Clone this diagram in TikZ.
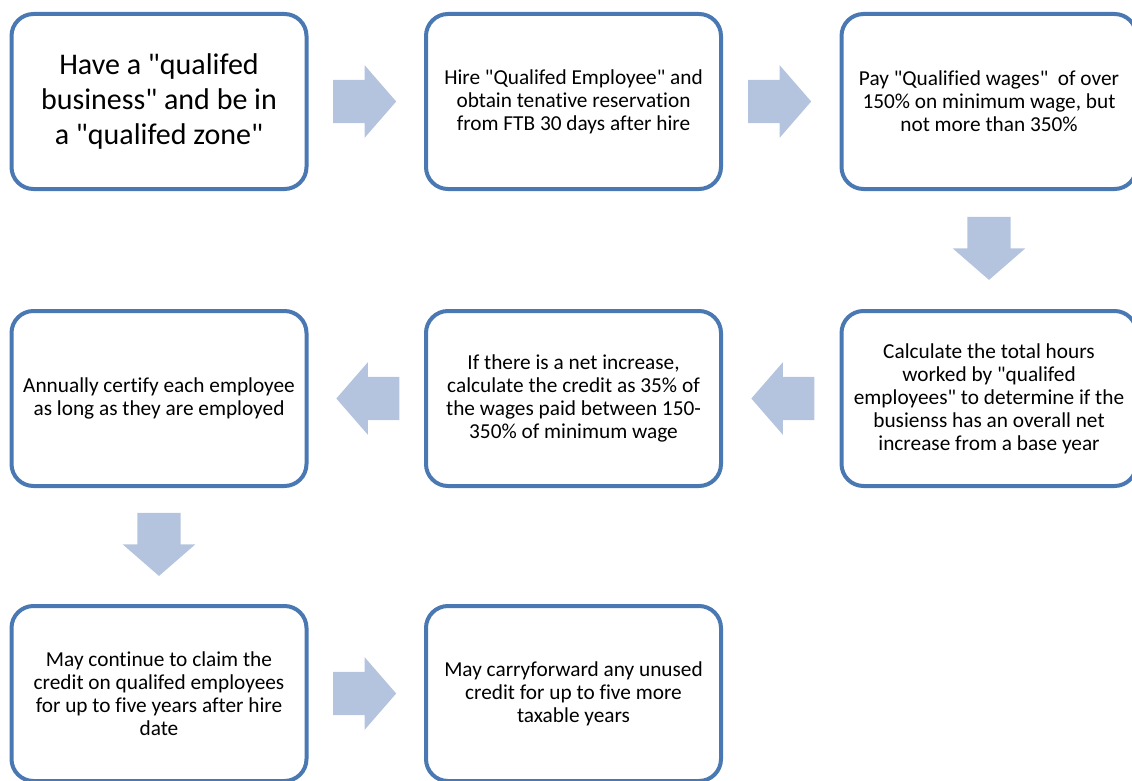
\documentclass[tikz,border=0pt]{standalone}
\usepackage{fontspec}
\setmainfont{Carlito}[Ligatures={TeXOff,NoCommon}]
\usetikzlibrary{calc,shapes.arrows}
\definecolor{boxcol}{RGB}{74,120,178}
\definecolor{arrcol}{RGB}{180,196,223}

\begin{document}
\begin{tikzpicture}[x=1pt,y=1pt,
  stepbox/.style={draw=boxcol,line width=4pt,rounded corners=22pt,fill=white,
    minimum width=295pt,minimum height=175pt,align=center,
    font=\fontsize{21.3}{23}\selectfont},
  flow/.style={single arrow,fill=arrcol,draw=none,inner xsep=0pt,inner ysep=21.5pt,
    minimum height=63pt,single arrow head extend=14.5pt,
    single arrow tip angle=98,rotate=#1,xshift=-11pt}]
\useasboundingbox (0,0) rectangle (1132,-781);
% top row
\node[stepbox,font=\fontsize{30}{35}\selectfont] (have) at (159,-101.5)
  {Have a "qualifed\\ business" and be in\\ a "qualifed zone"};
\node[stepbox] (hire) at (573.5,-101.5)
  {Hire "Qualifed Employee" and\\ obtain tenative reservation\\ from FTB 30 days after hire};
\node[stepbox] (pay) at (989,-101.5)
  {Pay "Qualified wages"\ \ of over\\ 150\% on minimum wage, but\\ not more than 350\%};
% middle row
\node[stepbox] (hours) at (989,-398.5)
  {Calculate the total hours\\ worked by "qualifed\\ employees" to determine if the\\
   busienss has an overall net\\ increase from a base year};
\node[stepbox] (credit) at (573.5,-398.5)
  {If there is a net increase,\\ calculate the credit as 35\% of\\ the wages paid between 150-\\
   350\% of minimum wage};
\node[stepbox] (certify) at (159,-398.5)
  {Annually certify each employee\\ as long as they are employed};
% bottom row
\node[stepbox] (claim) at (159,-693.5)
  {May continue to claim the\\ credit on qualifed employees\\ for up to five years after hire\\ date};
\node[stepbox] (carry) at (573.5,-693.5)
  {May carryforward any unused\\ credit for up to five more\\ taxable years};
% block arrows
\node[flow=0] (a1) at ($(have)!0.5!(hire)$) {};
\node[flow=0] (a2) at ($(hire)!0.5!(pay)$) {};
\node[flow=-90] (a3) at ($(pay)!0.5!(hours)$) {};
\node[flow=180] (a4) at ($(hours)!0.5!(credit)$) {};
\node[flow=180] (a5) at ($(credit)!0.5!(certify)$) {};
\node[flow=-90] (a6) at ($(certify)!0.5!(claim)$) {};
\node[flow=0] (a7) at ($(claim)!0.5!(carry)$) {};
\end{tikzpicture}
\end{document}
